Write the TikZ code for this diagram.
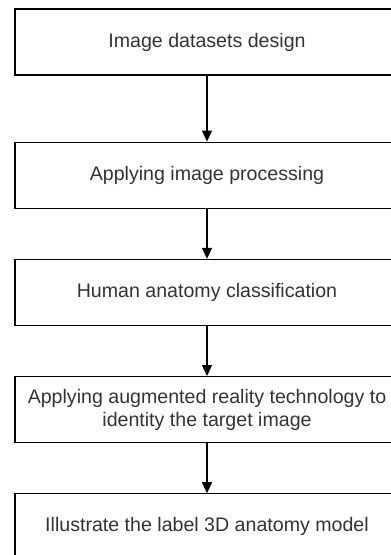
\documentclass[tikz,border=0pt]{standalone}
\usepackage{fontspec}
\setmainfont{Liberation Sans}
\usetikzlibrary{positioning,arrows.meta}
\begin{document}
\begin{tikzpicture}[x=1pt, y=1pt, line cap=round,
  node distance=50pt,
  blocco/.style={draw, line width=1.2pt, minimum width=384pt, minimum height=66pt,
    inner sep=0pt, align=center, text=black!80, font=\fontsize{19.6}{23}\selectfont},
  freccia/.style={-{Triangle[length=11pt,width=10pt]}, line width=1.2pt}]

  % area
  \clip (0,0) rectangle (391,-555);

  % blocchi
  \node[blocco] (dataset) at (207,-42) {Image datasets design};
  \node[blocco, below=66pt of dataset] (elabora) {Applying image processing};
  \node[blocco, below=of elabora] (classifica) {Human anatomy classification};
  \node[blocco, below=of classifica] (realta) {Applying augmented reality technology to\\identity the target image};
  \node[blocco, below=of realta] (modello) {Illustrate the label 3D anatomy model};

  % frecce
  \draw[freccia] (dataset) -- (elabora);
  \draw[freccia] (elabora) -- (classifica);
  \draw[freccia] (classifica) -- (realta);
  \draw[freccia] (realta) -- (modello);
\end{tikzpicture}
\end{document}
